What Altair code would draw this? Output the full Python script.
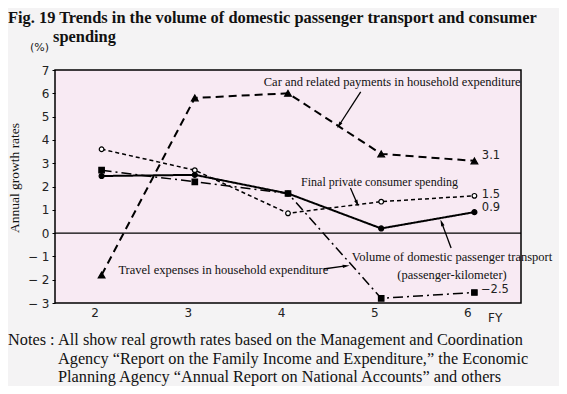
import math
import altair as alt
import pandas as pd

# ---------------- data ----------------
years = [2, 3, 4, 5, 6]
car_payments = [-1.8, 5.8, 6.0, 3.4, 3.1]
travel_expenses = [2.7, 2.2, 1.7, -2.8, -2.55]
consumer_spending = [3.6, 2.7, 0.85, 1.35, 1.6]
passenger_volume = [2.45, 2.5, 1.7, 0.2, 0.9]

series_names = ["car", "travel", "consumer", "volume"]
series_values = [car_payments, travel_expenses, consumer_spending, passenger_volume]

end_labels = ["3.1", "1.5", "0.9", "−2.5"]
y_ticks = [-3, -2, -1, 0, 1, 2, 3, 4, 5, 6, 7]

# ---------------- layout ----------------
W, H = 466, 233
XDOM = [1.5, 6.5]
YDOM = [-3, 7]
PX = W / (XDOM[1] - XDOM[0])
PY = H / (YDOM[1] - YDOM[0])
SERIF = "Liberation Serif"
SANS = "DejaVu Sans"

rows = []
for name, vals in zip(series_names, series_values):
    for yr, v in zip(years, vals):
        rows.append({"series": name, "year": yr, "value": v})
df = pd.DataFrame(rows)

xs = alt.Scale(domain=XDOM, nice=False, zero=False)
ys = alt.Scale(domain=YDOM, nice=False, zero=False)

X_AXIS = alt.Axis(values=years, title=None, grid=False, ticks=False,
                  format="d", labelOverlap=False, tickCount=5,
                  labelFont=SANS, labelFontSize=12, labelColor="#222",
                  labelPadding=4, labelOffset=-7, domain=False)
Y_AXIS = alt.Axis(values=y_ticks, tickCount=11, title=None, grid=False,
                  tickSize=3, tickColor="black", labelFont=SANS,
                  labelFontSize=12, labelColor="#222", labelPadding=3,
                  domain=False, labelOverlap=False, labelBound=False,
                  labelExpr="datum.value < 0 ? '− ' + abs(datum.value) : '' + datum.value")

def X(field):
    return alt.X(field, scale=xs, axis=X_AXIS)

def Y(field):
    return alt.Y(field, scale=ys, axis=Y_AXIS)

base = alt.Chart(df)

def line_layer(name, dash, width):
    return base.transform_filter(alt.datum.series == name).mark_line(
        color="black", strokeWidth=width, strokeDash=dash
    ).encode(x=X("year:Q"), y=Y("value:Q"))

def point_layer(name, shape, filled, size):
    return base.transform_filter(alt.datum.series == name).mark_point(
        shape=shape, filled=True, size=size, color="black",
        fill="black" if filled else "white", stroke="black", strokeWidth=1.2, opacity=1
    ).encode(x=X("year:Q"), y=Y("value:Q"))

lines = [
    line_layer("car", [8, 5], 2.0),
    line_layer("travel", [10, 4, 2, 4], 1.5),
    line_layer("consumer", [4, 3], 1.5),
    line_layer("volume", [1, 0], 2.0),
]
points = [
    point_layer("car", "triangle-up", True, 45),
    point_layer("travel", "square", True, 30),
    point_layer("consumer", "circle", False, 22),
    point_layer("volume", "circle", True, 25),
]

zero_rule = alt.Chart(pd.DataFrame({"y": [0]})).mark_rule(
    color="black", strokeWidth=1.3
).encode(y=Y("y:Q"))

# end-of-line value labels
lab_df = pd.DataFrame({
    "x": [6.08, 6.08, 6.08, 6.07],
    "y": [3.3, 1.65, 1.08, -2.45],
    "t": end_labels,
})
end_text = alt.Chart(lab_df).mark_text(
    align="left", baseline="middle", font=SANS, fontSize=11.5, color="#222"
).encode(x=X("x:Q"), y=Y("y:Q"), text="t:N")

# series annotations (data coordinates)
ann_df = pd.DataFrame({
    "x": [3.74, 4.14, 5.76, 5.76, 2.18],
    "y": [6.49, 2.19, -1.03, -1.80, -1.58],
    "t": ["Car and related payments in  household expenditure",
          "Final private consumer spending",
          "Volume of domestic passenger transport",
          "(passenger-kilometer)",
          "Travel expenses in household expenditure"],
    "a": ["left", "left", "center", "center", "left"],
    "s": [12.5, 12, 12.5, 12.5, 12.5],
})
ann_left = alt.Chart(ann_df[ann_df.a == "left"]).mark_text(
    align="left", baseline="middle", font=SERIF, color="#111"
).encode(x=X("x:Q"), y=Y("y:Q"), text="t:N", size=alt.Size("s:Q", scale=None))
ann_center = alt.Chart(ann_df[ann_df.a == "center"]).mark_text(
    align="center", baseline="middle", font=SERIF, color="#111"
).encode(x=X("x:Q"), y=Y("y:Q"), text="t:N", size=alt.Size("s:Q", scale=None))

# arrows (tail -> head, data coordinates)
arrow_tail_x = [4.78, 4.67, 5.75, 4.38]
arrow_tail_y = [6.06, 1.94, -0.64, -1.54]
arrow_head_x = [4.55, 4.74, 5.65, 4.62]
arrow_head_y = [4.64, 1.29, 0.43, -1.41]
arr_rows = []
for tx, ty, hx, hy in zip(arrow_tail_x, arrow_tail_y, arrow_head_x, arrow_head_y):
    dx = (hx - tx) * PX
    dy = -(hy - ty) * PY
    ang = math.degrees(math.atan2(dx, -dy)) % 360
    arr_rows.append({"tx": tx, "ty": ty, "hx": hx, "hy": hy, "ang": ang})
arr_df = pd.DataFrame(arr_rows)
arrow_lines = alt.Chart(arr_df).mark_rule(color="black", strokeWidth=1.3).encode(
    x=X("tx:Q"), y=Y("ty:Q"), x2="hx:Q", y2="hy:Q")
arrow_heads = alt.Chart(arr_df).mark_point(
    shape="M0,-1L0.45,0.8L-0.45,0.8Z", filled=True, color="black", size=60, opacity=1
).encode(x=X("hx:Q"), y=Y("hy:Q"), angle=alt.Angle("ang:Q", scale=None))

# texts outside the plot area (pixel offsets relative to plot origin)
outer_df = pd.DataFrame({
    "px": [-47, -2, -25, 433],
    "py": [-52, -33, -22, 248],
    "t": ["Fig. 19 Trends in the volume of domestic passenger transport and consumer",
          "spending", "(%)", "FY"],
})
title_text = alt.Chart(outer_df.iloc[:2]).mark_text(
    align="left", baseline="middle", font=SERIF, fontSize=16.4, fontWeight="bold", color="#111"
).encode(x=alt.X("px:Q", scale=None), y=alt.Y("py:Q", scale=None), text="t:N")
pct_text = alt.Chart(outer_df.iloc[2:3]).mark_text(
    align="left", baseline="middle", font=SANS, fontSize=11, color="#222"
).encode(x=alt.X("px:Q", scale=None), y=alt.Y("py:Q", scale=None), text="t:N")
fy_text = alt.Chart(outer_df.iloc[3:4]).mark_text(
    align="left", baseline="middle", font=SANS, fontSize=12, color="#222"
).encode(x=alt.X("px:Q", scale=None), y=alt.Y("py:Q", scale=None), text="t:N")

ytitle_df = pd.DataFrame({"px": [-40], "py": [108], "t": ["Annual growth rates"]})
ytitle = alt.Chart(ytitle_df).mark_text(
    angle=270, align="center", baseline="middle", font=SERIF, fontSize=13.5, color="#111"
).encode(x=alt.X("px:Q", scale=None), y=alt.Y("py:Q", scale=None), text="t:N")

notes_df = pd.DataFrame({
    "px": [-47, 3, 3, 3],
    "py": [270, 270, 288.5, 307],
    "t": ["Notes :",
          "All show real growth rates based on the Management and Coordination",
          "Agency “Report on the Family Income and Expenditure,” the Economic",
          "Planning Agency “Annual Report on National Accounts” and others"],
})
notes = alt.Chart(notes_df).mark_text(
    align="left", baseline="middle", font=SERIF, fontSize=16.3, color="#111"
).encode(x=alt.X("px:Q", scale=None), y=alt.Y("py:Q", scale=None), text="t:N")

chart = alt.layer(
    *lines, zero_rule, *points, end_text, ann_left, ann_center,
    arrow_lines, arrow_heads, title_text, pct_text, fy_text, ytitle, notes
).properties(
    width=W, height=H,
    autosize=alt.AutoSizeParams(type="none"),
    padding={"left": 47, "top": 62, "right": 38, "bottom": 83},
    background="#f4f3f4",
).configure_view(
    fill="#f8eaf3", stroke="black", strokeWidth=1.5
)

chart.save("out.html", embed_options={"renderer": "svg", "actions": False})
